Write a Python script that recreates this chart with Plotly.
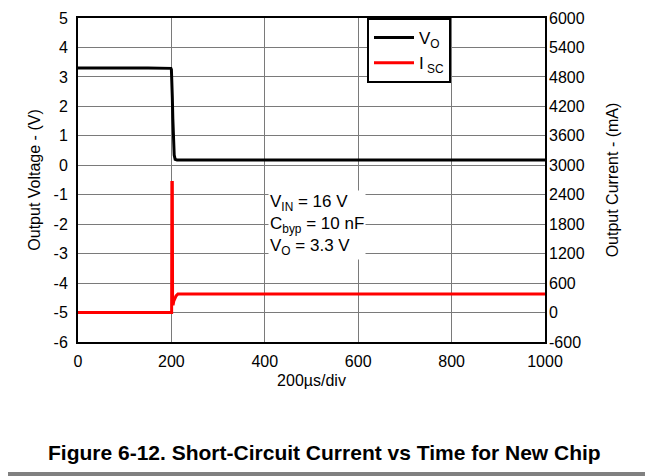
import plotly.graph_objects as go

# Output voltage trace (left axis, V)
t_vo = [0, 50, 100, 150, 199, 200, 201, 202, 203, 204, 205, 206, 208, 212, 300, 500, 700, 900, 1000]
vo = [3.30, 3.29, 3.30, 3.30, 3.29, 3.25, 2.9, 2.3, 1.6, 1.0, 0.6, 0.35, 0.2, 0.18, 0.18, 0.18, 0.18, 0.18, 0.18]

# Short-circuit current trace (right axis, mA)
t_isc = [0, 100, 199.5, 200.5, 201, 202, 202.5, 203.5, 205, 207, 210, 214, 300, 500, 700, 900, 1000]
isc = [0, 0, 0, 0, 2650, 2650, 300, 150, 230, 280, 340, 380, 380, 382, 380, 380, 380]

x_ticks = [0, 200, 400, 600, 800, 1000]
y_left_ticks = list(range(-6, 6))
y_right_ticks = list(range(-600, 6001, 600))

FONT = "Liberation Sans"
GRID = "#7a7a7a"

fig = go.Figure()
fig.add_trace(go.Scatter(x=t_vo, y=vo, mode="lines", name="V<sub>O</sub>",
                         line=dict(color="black", width=3), yaxis="y"))
fig.add_trace(go.Scatter(x=t_isc, y=isc, mode="lines", name="I<sub> SC</sub>",
                         line=dict(color="#ff0000", width=3), yaxis="y2"))

W, H = 645, 468
L, R, T, B = 70, 108, 10, 134
PW, PH = W - L - R, H - T - B

fig.update_layout(
    width=W, height=H,
    margin=dict(l=L, r=R, t=T, b=B, autoexpand=False),
    paper_bgcolor="white", plot_bgcolor="white",
    font=dict(family=FONT, size=16, color="black"),
    showlegend=True,
    legend=dict(x=(367 - 78) / 467, y=1, xanchor="left", yanchor="top",
                bgcolor="white", bordercolor="black", borderwidth=2,
                font=dict(size=17), tracegroupgap=0, itemwidth=40),
    xaxis=dict(range=[0, 1000], tickvals=x_ticks, ticktext=[str(v) for v in x_ticks],
               showgrid=True, gridcolor=GRID, gridwidth=1, automargin=False,
               zeroline=False, showline=True, linecolor="black", linewidth=2, mirror=True,
               ticks="", ticklabelstandoff=4,
               title=dict(text="200µs/div", standoff=6, font=dict(size=16))),
    yaxis=dict(range=[-6, 5], tickvals=y_left_ticks, ticktext=[str(v) for v in y_left_ticks],
               showgrid=True, gridcolor=GRID, gridwidth=1, automargin=False,
               zeroline=False, showline=True, linecolor="black", linewidth=2, mirror=True,
               ticks="", ticklabelstandoff=5,
               title=dict(text="Output Voltage - (V)", standoff=9, font=dict(size=16))),
    yaxis2=dict(range=[-600, 6000], tickvals=y_right_ticks, ticktext=[str(v) for v in y_right_ticks],
                overlaying="y", side="right", automargin=False,
                showgrid=False, zeroline=False, ticks="", ticklabelstandoff=3,
                title=dict(text="Output Current - (mA)", standoff=23, font=dict(size=16))),
    annotations=[
        dict(x=407, y=-0.85, xref="x", yref="y", xanchor="left", yanchor="top",
             text="V<sub>IN</sub> = 16 V<br>C<sub>byp</sub> = 10 nF<br>V<sub>O</sub> = 3.3 V",
             showarrow=False, align="left", bgcolor="white", font=dict(size=17), borderpad=1),
        dict(x=(316 - L) / PW, y=-110 / PH, xref="paper", yref="paper",
             xanchor="center", yanchor="middle",
             text="<b>Figure 6-12. Short-Circuit Current vs Time for New Chip</b>",
             showarrow=False, font=dict(size=21, family=FONT)),
    ],
    shapes=[
        dict(type="rect", xref="paper", yref="paper", x0=-L / PW - 0.05, x1=1 + R / PW + 0.05,
             y0=-B / PH, y1=-(B - 4) / PH, fillcolor="#808080", line=dict(width=0)),
    ],
)

fig.write_html("out.html")
